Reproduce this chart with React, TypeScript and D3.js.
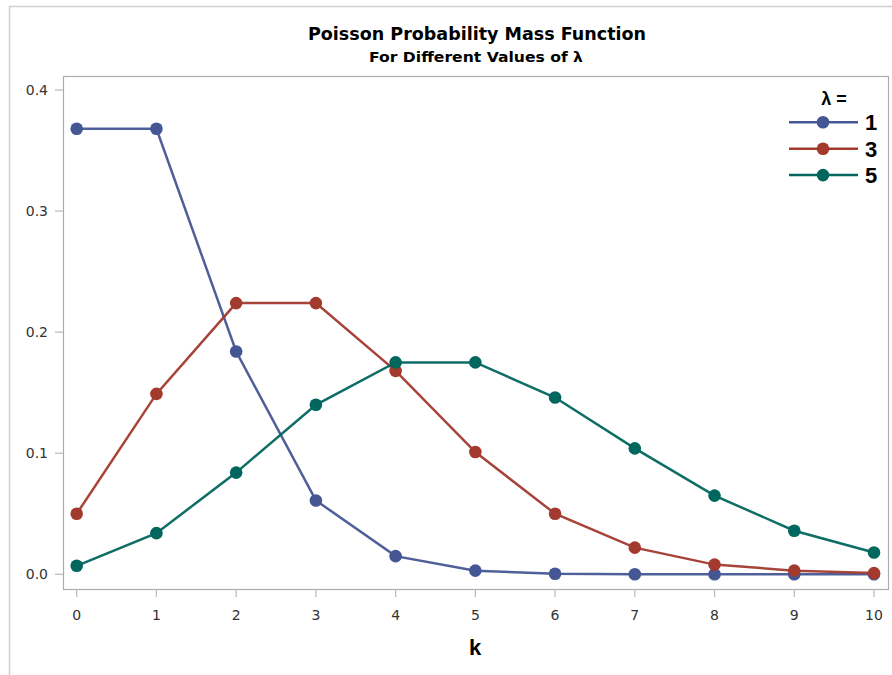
import { useEffect, useRef } from 'react';
import * as d3 from 'd3';

const kValues = [0, 1, 2, 3, 4, 5, 6, 7, 8, 9, 10];
const lambdas = ["1", "3", "5"];
const pmfLambda1 = [0.368, 0.368, 0.184, 0.061, 0.015, 0.003, 0.0005, 0.0001, 0, 0, 0];
const pmfLambda3 = [0.05, 0.149, 0.224, 0.224, 0.168, 0.101, 0.05, 0.022, 0.008, 0.003, 0.001];
const pmfLambda5 = [0.007, 0.034, 0.084, 0.14, 0.175, 0.175, 0.146, 0.104, 0.065, 0.036, 0.018];
const yTicks = [0, 0.1, 0.2, 0.3, 0.4];
const colors = ["#445694", "#A23A2E", "#01665E"];

const App = () => {
  const svgRef = useRef(null);

  useEffect(() => {
    if (!svgRef.current) return;
    const svg = d3.select(svgRef.current);
    svg.selectAll("*").remove();

    const font = "'Liberation Sans', Arial, sans-serif";
    const wideFont = "'DejaVu Sans', Verdana, sans-serif";
    const frame = { left: 63, top: 76, right: 888, bottom: 589 };

    // outer border (cropped at right/bottom)
    svg.append("path")
      .attr("d", "M9.5,675 L9.5,6.5 L892,6.5")
      .attr("fill", "none")
      .attr("stroke", "#d0d0d0")
      .attr("stroke-width", 1.5);

    const x = d3.scaleLinear().domain([0, 10]).range([76.7, 874]);
    const y = d3.scaleLinear().domain([0, 0.4]).range([574.3, 90]);

    // title
    svg.append("text")
      .attr("x", 308).attr("y", 40)
      .attr("textLength", 338).attr("lengthAdjust", "spacingAndGlyphs")
      .attr("font-family", wideFont).attr("font-weight", "bold").attr("font-size", 17)
      .attr("fill", "#000")
      .text("Poisson Probability Mass Function");
    svg.append("text")
      .attr("x", 369).attr("y", 62)
      .attr("textLength", 214).attr("lengthAdjust", "spacingAndGlyphs")
      .attr("font-family", wideFont).attr("font-weight", "bold").attr("font-size", 14.5)
      .attr("fill", "#000")
      .text("For Different Values of λ");

    // plot frame
    svg.append("rect")
      .attr("x", frame.left + 0.5).attr("y", frame.top + 0.5)
      .attr("width", frame.right - frame.left).attr("height", frame.bottom - frame.top)
      .attr("fill", "none").attr("stroke", "#a9adb0").attr("stroke-width", 1.2);

    // y axis ticks
    const yAxis = svg.append("g");
    yTicks.forEach(t => {
      yAxis.append("line")
        .attr("x1", 55).attr("x2", frame.left)
        .attr("y1", y(t)).attr("y2", y(t))
        .attr("stroke", "#b8b8b8").attr("stroke-width", 1.2);
      yAxis.append("text")
        .attr("x", 48).attr("y", y(t) + 5)
        .attr("text-anchor", "end")
        .attr("font-family", wideFont).attr("font-size", 14).attr("fill", "#333")
        .text(d3.format(".1f")(t));
    });

    // x axis ticks
    const xAxis = svg.append("g");
    kValues.forEach(k => {
      xAxis.append("line")
        .attr("x1", x(k)).attr("x2", x(k))
        .attr("y1", frame.bottom).attr("y2", frame.bottom + 8)
        .attr("stroke", "#b8b8b8").attr("stroke-width", 1.2);
      xAxis.append("text")
        .attr("x", x(k)).attr("y", 620)
        .attr("text-anchor", "middle")
        .attr("font-family", wideFont).attr("font-size", 14).attr("fill", "#333")
        .text(k);
    });

    svg.append("text")
      .attr("x", 475).attr("y", 655)
      .attr("text-anchor", "middle")
      .attr("font-family", font).attr("font-weight", "bold").attr("font-size", 22)
      .attr("fill", "#000")
      .text("k");

    const series = [pmfLambda1, pmfLambda3, pmfLambda5];
    const line = d3.line<number>().x((_, i) => x(kValues[i])).y(d => y(d));

    series.forEach((vals, si) => {
      svg.append("path")
        .datum(vals)
        .attr("d", line)
        .attr("fill", "none")
        .attr("stroke", colors[si])
        .attr("stroke-width", 2.5)
        .attr("opacity", 0.95);
    });
    series.forEach((vals, si) => {
      svg.append("g").selectAll("circle")
        .data(vals)
        .enter().append("circle")
        .attr("cx", (_, i) => x(kValues[i]))
        .attr("cy", d => y(d))
        .attr("r", 6.3)
        .attr("fill", colors[si]);
    });

    // legend
    const legend = svg.append("g");
    legend.append("text")
      .attr("x", 834).attr("y", 105)
      .attr("text-anchor", "middle")
      .attr("font-family", font).attr("font-weight", "bold").attr("font-size", 18)
      .attr("fill", "#000")
      .text("λ =");
    lambdas.forEach((lab, i) => {
      const ly = 122.3 + i * 26.4;
      legend.append("line")
        .attr("x1", 789).attr("x2", 858)
        .attr("y1", ly).attr("y2", ly)
        .attr("stroke", colors[i]).attr("stroke-width", 2.5);
      legend.append("circle")
        .attr("cx", 823).attr("cy", ly).attr("r", 6.3).attr("fill", colors[i]);
      legend.append("text")
        .attr("x", 865).attr("y", ly + 8)
        .attr("font-family", font).attr("font-weight", "bold").attr("font-size", 22)
        .attr("fill", "#000")
        .text(lab);
    });
  }, []);

  return (
    <svg ref={svgRef} width={892} height={675} style={{ position: "absolute", left: 0, top: 0 }}></svg>
  );
};

export default App;
